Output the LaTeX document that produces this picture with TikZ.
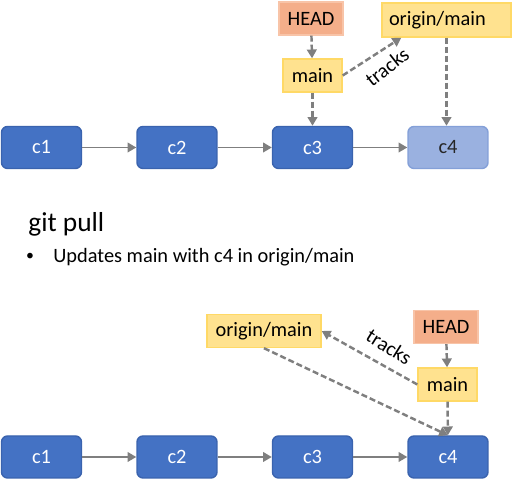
\documentclass[tikz,border=0pt]{standalone}
\usepackage{fontspec}
\setmainfont{Carlito}
\usetikzlibrary{arrows.meta,positioning}
\definecolor{commitblue}{HTML}{4472C4}
\definecolor{commitedge}{HTML}{3A63AE}
\definecolor{pendingblue}{HTML}{9AB1E0}
\definecolor{pendingedge}{HTML}{84A0D8}
\definecolor{headred}{HTML}{F4AE8A}
\definecolor{headedge}{HTML}{F8C4A8}
\definecolor{branchyellow}{HTML}{FFE28F}
\definecolor{branchedge}{HTML}{FFD966}
\definecolor{linkgray}{HTML}{7F7F7F}
\tikzstyle{txt}     = [font=\fontsize{11.6}{13}\selectfont]
\tikzstyle{commit}  = [rectangle, txt, rounded corners=0.12cm, thick, minimum width=1.6cm, minimum height=0.84cm, fill=commitblue, draw=commitedge, text=white]
\tikzstyle{pending} = [commit, fill=pendingblue, draw=pendingedge, text=black!85]
\tikzstyle{tag}     = [rectangle, txt, thick, minimum height=0.66cm]
\tikzstyle{headbox} = [tag, fill=headred, draw=headedge, minimum width=1.28cm]
\tikzstyle{branch}  = [tag, fill=branchyellow, draw=branchedge, minimum width=1.18cm]
\tikzstyle{link}    = [->, draw=linkgray, line width=1.1pt]
\tikzstyle{pointer} = [->, draw=linkgray, line width=1.4pt, dash pattern=on 0.12cm off 0.06cm]

\begin{document}
\begin{tikzpicture}[%
    x=0.02cm, y=-0.02cm,
    >={Triangle[length=5pt,width=5.5pt]}
  ]
      \useasboundingbox (0,0) rectangle (512,482);

      %Before the pull
      \draw (41.5,147.5) node[commit] (a1) {c1};
      \draw (177,147.5) node[commit] (a2) {c2};
      \draw (312.5,147.5) node[commit] (a3) {c3};
      \draw (448,147.5) node[pending] (a4) {c4};
      \draw (311,18.5) node[headbox] (h1) {HEAD};
      \draw (312.5,75.5) node[branch] (m1) {main};
      \draw (446.5,20) node[branch, minimum height=0.68cm, text width=2.3cm, inner xsep=0.14cm, align=left] (o1) {origin/main};
      \node[txt, rotate=38, inner sep=0pt] (t1) at (387,67) {tracks};

      \draw[link] (a1) -- (a2);
      \draw[link] (a2) -- (a3);
      \draw[link] (a3) -- (a4);
      \draw[pointer] (h1) -- (m1);
      \draw[pointer] (m1) -- (a3);
      \draw[pointer] (m1.east) -- ([xshift=0.4cm]o1.south west);
      \draw[pointer] (o1.south) -- (o1.south |- a4.north);

      %Caption
      \node[anchor=base west, inner sep=0pt, font=\fontsize{15.6}{18}\selectfont] (cmd) at (28,232) {git pull};
      \node[font=\fontsize{9}{10}\selectfont, inner sep=0pt] (dot) at (30,257) {•};
      \node[txt, anchor=base west, inner sep=0pt] (note) at (53,263) {Updates main with c4 in origin/main};

      %After the pull
      \draw (41.5,457) node[commit] (b1) {c1};
      \draw (177,457) node[commit] (b2) {c2};
      \draw (312.5,457) node[commit] (b3) {c3};
      \draw (448,457) node[commit] (b4) {c4};
      \draw (446,327) node[headbox] (h2) {HEAD};
      \draw (447.5,384.5) node[branch] (m2) {main};
      \draw (264,331) node[branch, minimum width=2.28cm] (o2) {origin/main};
      \node[txt, rotate=-32, inner sep=0pt] (t2) at (389,347) {tracks};

      \draw[link] (b1) -- (b2);
      \draw[link] (b2) -- (b3);
      \draw[link] (b3) -- (b4);
      \draw[pointer] (h2) -- (m2);
      \draw[pointer] (m2) -- (b4);
      \draw[pointer] (m2.west) -- (o2.east);
      \draw[pointer] (o2.south) -- (b4.north);
    \end{tikzpicture}
\end{document}
